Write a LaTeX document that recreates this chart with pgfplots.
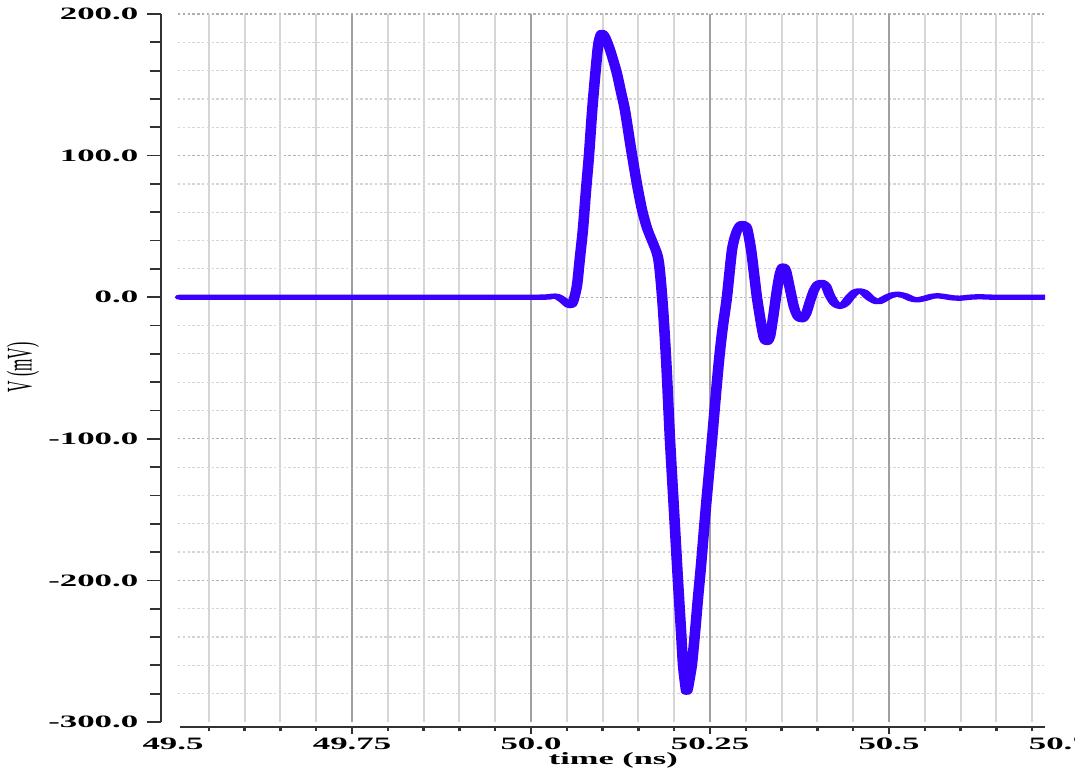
\documentclass[border=0pt]{standalone}
\usepackage{fontspec}
\setmainfont{Liberation Serif}
\usepackage{graphicx}
\usepackage{pgfplots}
\pgfplotsset{compat=1.18}
\definecolor{wave}{RGB}{58,0,255}
\definecolor{gmaj}{RGB}{160,160,160}
\definecolor{gmin}{RGB}{214,214,214}
\definecolor{hmaj}{RGB}{175,175,175}
\definecolor{hmin}{RGB}{212,212,212}
\definecolor{axc}{RGB}{50,50,50}
\newcommand{\tickfont}{\bfseries\fontsize{8.7}{9}\selectfont}
\begin{document}
\begin{tikzpicture}
\useasboundingbox (0,0) rectangle (537.5pt,385.5pt);
\begin{scope}[transform canvas={xscale=2}]
% ---------- horizontal grid ----------
\begin{axis}[
  at={(44.5pt,24.5pt)}, anchor=south west,
  scale only axis, width=216.75pt, height=354pt,
  xmin=0, xmax=1, ymin=-300, ymax=200,
  axis line style={draw=none},
  xtick=\empty,
  ytick={-280,-260,-240,-220,-180,-160,-140,-120,-80,-60,-40,-20,20,40,60,80,120,140,160,180},
  yticklabels={},
  extra y ticks={-200,-100,0,100,200},
  extra y tick labels={},
  extra y tick style={grid=major, major grid style={color=hmaj, line width=0.6pt, dash pattern=on 0.6pt off 0.6pt}},
  ymajorgrids=true,
  major grid style={color=hmin, line width=0.6pt, dash pattern=on 0.6pt off 0.6pt},
  major tick length=0pt, minor tick length=0pt,
  tick style={draw=none},
]
\end{axis}
% ---------- vertical grid + data ----------
\begin{axis}[
  at={(43.25pt,24.5pt)}, anchor=south west,
  scale only axis, width=218pt, height=354pt,
  xmin=49.5, xmax=50.718, ymin=-300, ymax=200,
  axis line style={draw=none},
  xtick={49.55,49.6,49.65,49.7,49.8,49.85,49.9,49.95,50.05,50.1,50.15,50.2,50.3,50.35,50.4,50.45,50.55,50.6,50.65,50.7},
  xticklabels={},
  extra x ticks={49.75,50,50.25,50.5},
  extra x tick labels={},
  extra x tick style={grid=major, major grid style={color=gmaj, line width=0.6pt}},
  ytick=\empty,
  xmajorgrids=true,
  major grid style={color=gmin, line width=0.5pt},
  major tick length=0pt, minor tick length=0pt,
  tick style={draw=none},
]
\addplot[color=wave, line width=2.65pt, line join=round, line cap=round, smooth, tension=0.45] coordinates {
(49.5098,0) (49.9846,0) (50.0237,0.3) (50.0349,0.8) (50.0447,-2) (50.0545,-6)
(50.0587,-3.5) (50.0642,8) (50.0684,28) (50.0726,48) (50.0768,75) (50.0810,100)
(50.0852,130) (50.0894,155) (50.0936,177) (50.0964,184) (50.0992,187) (50.1034,184)
(50.1089,177) (50.1145,168) (50.1201,158) (50.1257,145) (50.1313,132) (50.1397,105)
(50.1480,80) (50.1550,62) (50.1620,49) (50.1690,40) (50.1760,31) (50.1788,24)
(50.1816,10) (50.1844,-8) (50.1872,-30) (50.1899,-55) (50.1941,-100) (50.1997,-150)
(50.2053,-200) (50.2095,-235) (50.2123,-259) (50.2151,-272) (50.2172,-279) (50.2193,-276)
(50.2221,-268) (50.2249,-259) (50.2291,-237) (50.2332,-213) (50.2374,-190) (50.2444,-148)
(50.2528,-101) (50.2598,-60) (50.2640,-38) (50.2682,-20) (50.2737,0) (50.2807,33)
(50.2863,45) (50.2919,51) (50.2961,52) (50.3017,49) (50.3073,34) (50.3115,17)
(50.3156,0) (50.3212,-18) (50.3254,-29) (50.3296,-32) (50.3338,-28) (50.3380,-15)
(50.3436,5) (50.3478,17) (50.3520,22) (50.3561,19) (50.3617,6) (50.3673,-7)
(50.3729,-14) (50.3785,-16) (50.3841,-12) (50.3897,-3) (50.3953,5) (50.4008,9.5)
(50.4064,10.5) (50.4120,8) (50.4176,1) (50.4246,-4.5) (50.4316,-6.5) (50.4385,-4.5)
(50.4455,0) (50.4525,3.5) (50.4581,4.5) (50.4651,3.5) (50.4735,-0.5) (50.4846,-3.3)
(50.4958,-0.5) (50.5042,1.5) (50.5126,2.1) (50.5223,1) (50.5307,-1) (50.5391,-1.9)
(50.5503,-0.8) (50.5601,0.6) (50.5684,1) (50.5782,0.4) (50.5880,-0.4) (50.5992,-0.7)
(50.6131,0) (50.6271,0.3) (50.6480,0) (50.7165,0)
};
\end{axis}
% ---------- y axis (detached) ----------
\begin{axis}[
  at={(40.25pt,24.5pt)}, anchor=south west,
  scale only axis, width=10pt, height=354pt,
  xmin=0, xmax=1, ymin=-300, ymax=200,
  axis y line=left, axis x line=none,
  y axis line style={-, color=axc, line width=0.6pt},
  ytick={-300,-200,-100,0,100,200},
  yticklabels={-300.0,-200.0,-100.0,0.0,100.0,200.0},
  minor ytick={-280,-260,-240,-220,-180,-160,-140,-120,-80,-60,-40,-20,20,40,60,80,120,140,160,180},
  tick align=outside,
  major tick length=3.5pt, minor tick length=2.75pt,
  tick style={color=axc, line width=0.9pt},
  yticklabel style={font=\tickfont, inner xsep=2.0pt, anchor=east},
  clip=false,
]
\node[rotate=90, font=\fontsize{8.6}{9}\selectfont, color=black] at ([xshift=-34.5pt]rel axis cs:0,0.501) {\scalebox{0.92}[1.05]{V (mV)}};
\end{axis}
% ---------- x axis (detached) ----------
\begin{axis}[
  at={(43.25pt,22pt)}, anchor=south west,
  scale only axis, width=223.75pt, height=10pt,
  xmin=49.5, xmax=50.75, ymin=0, ymax=1,
  axis x line=bottom, axis y line=none,
  x axis line style={draw=none},
  xtick={49.75,50,50.25,50.5},
  xticklabels={49.75,50.0,50.25,50.5},
  minor xtick={49.55,49.6,49.65,49.7,49.8,49.85,49.9,49.95,50.05,50.1,50.15,50.2,50.3,50.35,50.4,50.45,50.55,50.6,50.65,50.7},
  extra x ticks={49.5,50.75},
  extra x tick labels={49.5,50.75},
  extra x tick style={tick style={draw=none}},
  tick align=outside,
  major tick length=3.5pt, minor tick length=2.2pt,
  tick style={color=axc, line width=0.6pt},
  xticklabel style={font=\tickfont, inner ysep=1.6pt},
  clip=false,
]
\draw[color=axc, line width=1pt] (axis cs:49.5098,0) -- (axis cs:50.718,0);
\node[font=\bfseries\fontsize{8.6}{9}\selectfont] at ([yshift=-16.5pt]axis cs:50.115,0) {time (ns)};
\end{axis}
\end{scope}
\end{tikzpicture}
\end{document}
